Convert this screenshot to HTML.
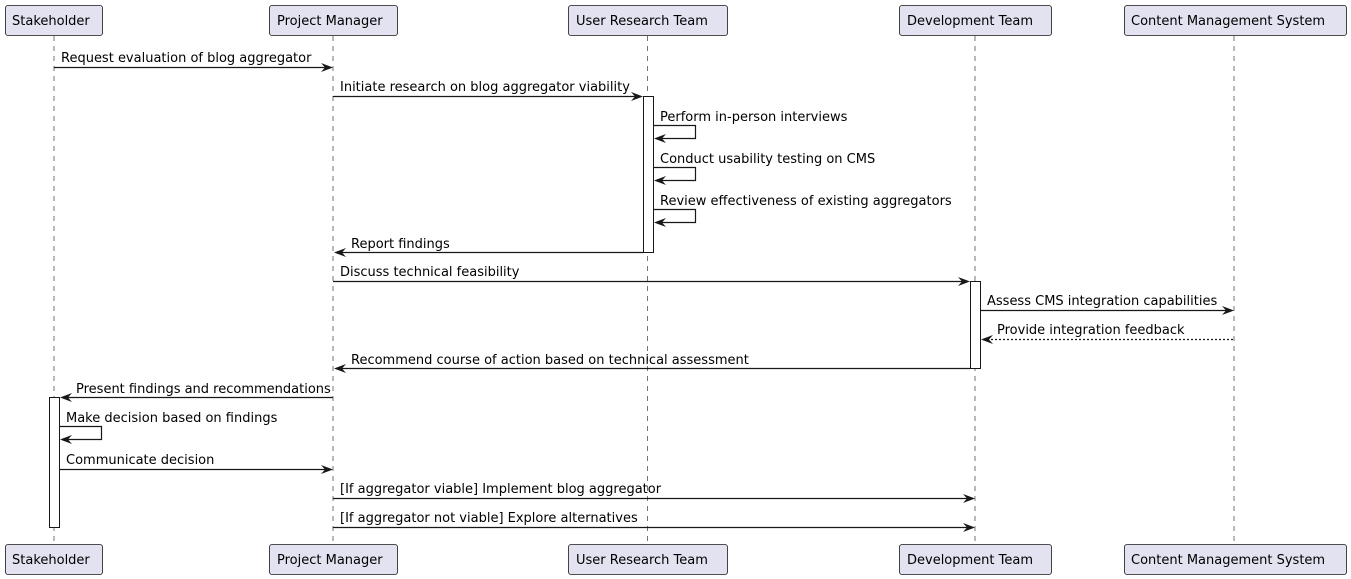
<!DOCTYPE html>
<html><head><meta charset="utf-8"><style>
html,body{margin:0;padding:0;background:#fff;}
svg{display:block;}
text{font-family:"DejaVu Sans","Liberation Sans",sans-serif;font-size:13px;fill:#000;}
.p{fill:#E2E2F0;stroke:#181818;stroke-width:0.8;}
.ll{stroke:#181818;stroke-width:0.6;stroke-dasharray:5,5;}
.m{stroke:#181818;stroke-width:1.2;fill:none;}
.d{stroke:#181818;stroke-width:1.2;fill:none;stroke-dasharray:2,2;}
.a{fill:#fff;stroke:#181818;stroke-width:1;}
.h{fill:#181818;}
</style></head><body>
<svg width="1351" height="579" viewBox="0 0 1351 579" xmlns="http://www.w3.org/2000/svg">
<!-- lifelines -->
<line class="ll" x1="54" y1="36" x2="54" y2="544"/>
<line class="ll" x1="333" y1="36" x2="333" y2="544"/>
<line class="ll" x1="647.5" y1="36" x2="647.5" y2="544"/>
<line class="ll" x1="975" y1="36" x2="975" y2="544"/>
<line class="ll" x1="1234" y1="36" x2="1234" y2="544"/>
<!-- participants top -->
<rect class="p" x="5.5" y="5.5" width="97" height="30" rx="2.5"/><text x="12" y="25">Stakeholder</text>
<rect class="p" x="269.5" y="5.5" width="128" height="30" rx="2.5"/><text x="277" y="25">Project Manager</text>
<rect class="p" x="568.5" y="5.5" width="159" height="30" rx="2.5"/><text x="576" y="25">User Research Team</text>
<rect class="p" x="899.5" y="5.5" width="152" height="30" rx="2.5"/><text x="907" y="25">Development Team</text>
<rect class="p" x="1124.5" y="5.5" width="222" height="30" rx="2.5"/><text x="1131" y="25">Content Management System</text>
<!-- participants bottom -->
<rect class="p" x="5.5" y="544.5" width="97" height="30" rx="2.5"/><text x="12" y="564">Stakeholder</text>
<rect class="p" x="269.5" y="544.5" width="128" height="30" rx="2.5"/><text x="277" y="564">Project Manager</text>
<rect class="p" x="568.5" y="544.5" width="159" height="30" rx="2.5"/><text x="576" y="564">User Research Team</text>
<rect class="p" x="899.5" y="544.5" width="152" height="30" rx="2.5"/><text x="907" y="564">Development Team</text>
<rect class="p" x="1124.5" y="544.5" width="222" height="30" rx="2.5"/><text x="1131" y="564">Content Management System</text>
<!-- activations -->
<rect class="a" x="643.5" y="96.5" width="10" height="156"/>
<rect class="a" x="970.5" y="281.5" width="10" height="87"/>
<rect class="a" x="49.5" y="397.5" width="10" height="130"/>

<!-- 1 -->
<line class="m" x1="54" y1="67.5" x2="331" y2="67.5"/><polygon class="h" points="333,67.5 321,63 325,67.5 321,72"/>
<text x="61" y="62">Request evaluation of blog aggregator</text>
<!-- 2 -->
<line class="m" x1="333" y1="96.5" x2="641" y2="96.5"/><polygon class="h" points="643,96.5 631,92 635,96.5 631,101"/>
<text x="340" y="91">Initiate research on blog aggregator viability</text>
<!-- self msgs URT -->
<polyline class="m" points="653.5,125.5 695.5,125.5 695.5,138.5 656,138.5"/><polygon class="h" points="654,138.5 666,134 662,138.5 666,143"/>
<text x="660" y="121">Perform in-person interviews</text>
<polyline class="m" points="653.5,167.5 695.5,167.5 695.5,180.5 656,180.5"/><polygon class="h" points="654,180.5 666,176 662,180.5 666,185"/>
<text x="660" y="163">Conduct usability testing on CMS</text>
<polyline class="m" points="653.5,209.5 695.5,209.5 695.5,222.5 656,222.5"/><polygon class="h" points="654,222.5 666,218 662,222.5 666,227"/>
<text x="660" y="205">Review effectiveness of existing aggregators</text>
<!-- report -->
<line class="m" x1="336" y1="252.5" x2="643" y2="252.5"/><polygon class="h" points="334,252.5 346,248 342,252.5 346,257"/>
<text x="351" y="248">Report findings</text>
<!-- discuss -->
<line class="m" x1="333" y1="281.5" x2="968" y2="281.5"/><polygon class="h" points="970,281.5 958,277 962,281.5 958,286"/>
<text x="340" y="276">Discuss technical feasibility</text>
<!-- assess -->
<line class="m" x1="980.5" y1="310.5" x2="1232" y2="310.5"/><polygon class="h" points="1234,310.5 1222,306 1226,310.5 1222,315"/>
<text x="987" y="305">Assess CMS integration capabilities</text>
<!-- feedback dashed -->
<line class="d" x1="983" y1="339.5" x2="1234" y2="339.5"/><polygon class="h" points="981,339.5 993,335 989,339.5 993,344"/>
<text x="997" y="334">Provide integration feedback</text>
<!-- recommend -->
<line class="m" x1="336" y1="368.5" x2="970" y2="368.5"/><polygon class="h" points="334,368.5 346,364 342,368.5 346,373"/>
<text x="351" y="364">Recommend course of action based on technical assessment</text>
<!-- present -->
<line class="m" x1="62" y1="397.5" x2="333" y2="397.5"/><polygon class="h" points="60,397.5 72,393 68,397.5 72,402"/>
<text x="76" y="393">Present findings and recommendations</text>
<!-- self stakeholder -->
<polyline class="m" points="59.5,426.5 101.5,426.5 101.5,439.5 62,439.5"/><polygon class="h" points="60,439.5 72,435 68,439.5 72,444"/>
<text x="66" y="422">Make decision based on findings</text>
<!-- communicate -->
<line class="m" x1="59.5" y1="469.5" x2="331" y2="469.5"/><polygon class="h" points="333,469.5 321,465 325,469.5 321,474"/>
<text x="66" y="464">Communicate decision</text>
<!-- if viable -->
<line class="m" x1="333" y1="498.5" x2="973" y2="498.5"/><polygon class="h" points="975,498.5 963,494 967,498.5 963,503"/>
<text x="340" y="493">[If aggregator viable] Implement blog aggregator</text>
<!-- not viable -->
<line class="m" x1="333" y1="527.5" x2="973" y2="527.5"/><polygon class="h" points="975,527.5 963,523 967,527.5 963,532"/>
<text x="340" y="522">[If aggregator not viable] Explore alternatives</text>
</svg>
</body></html>
